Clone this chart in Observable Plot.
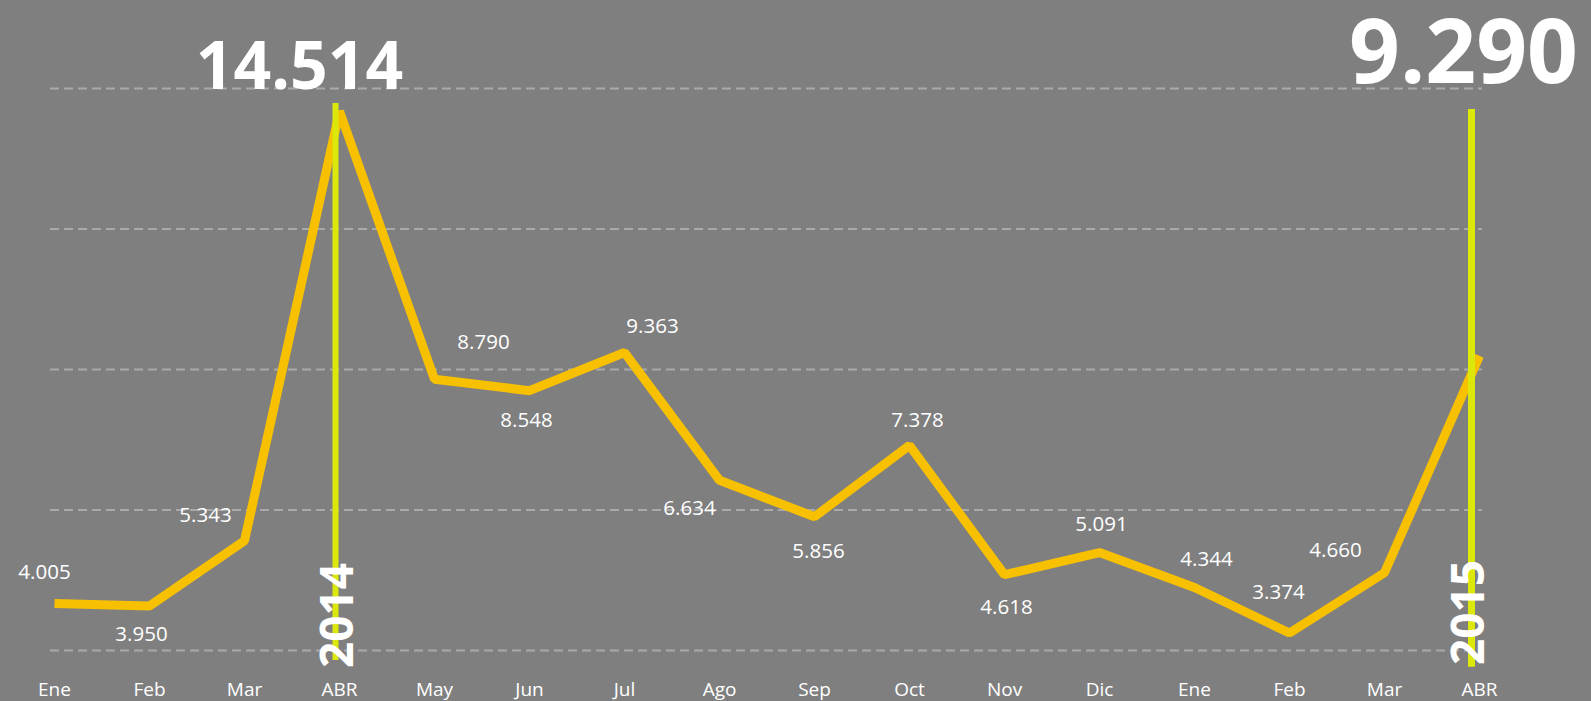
<!DOCTYPE html>
<html>
<head>
<meta charset="utf-8">
<script src="https://cdn.jsdelivr.net/npm/d3@7"></script>
<script src="https://cdn.jsdelivr.net/npm/@observablehq/plot@0.6"></script>
<style>
  html, body { margin: 0; padding: 0; background: #7f7f7f; overflow: hidden; }
  #chart svg { display: block; }
</style>
</head>
<body>
<div id="chart"></div>
<script>
// ---- data ----
const months = ["Ene","Feb","Mar","ABR","May","Jun","Jul","Ago","Sep","Oct","Nov","Dic","Ene","Feb","Mar","ABR"];
const values = [4005,3950,5343,14514,8790,8548,9363,6634,5856,7378,4618,5091,4344,3374,4660,9290];
const yearLabels = ["2014","2015"];
const yearIndex = [3, 15];
const gridTicks = [3000,6000,9000,12000,15000];

// ---- layout config (label nudges in px, relative to each point) ----
const labelOffsets = [
  [-10,-31],[-8,28],[-39,-25],null,[49,-37],[-3,30],[28,-26],[-30,28],
  [4,35],[8,-25],[2,33],[2,-28],[12,-28],[-11,-41],[-49,-22],null
];

const fmt = d3.formatLocale({decimal: ",", thousands: ".", grouping: [3]}).format(",d");
const data = values.map((v, i) => ({i, v, m: months[i]}));

const lineColor = "#f7c000";
const markerColor = "#dce70a";

const labelMarks = data
  .filter((d, i) => labelOffsets[i])
  .map(d => Plot.text([d], {
    x: "i", y: "v", text: d => fmt(d.v),
    dx: labelOffsets[d.i][0], dy: labelOffsets[d.i][1],
    fill: "white", fontSize: 20.5, lineAnchor: "middle", textAnchor: "middle"
  }));

const chart = Plot.plot({
  width: 1591,
  height: 701,
  marginLeft: 50,
  marginRight: 109,
  marginTop: 88,
  marginBottom: 51,
  style: {background: "#7f7f7f", color: "white", fontFamily: "'Open Sans', sans-serif"},
  x: {type: "point", domain: d3.range(months.length), padding: 0, axis: null},
  y: {domain: [3000, 15000], axis: null},
  marks: [
    Plot.ruleY(gridTicks, {stroke: "#a9a9a9", strokeWidth: 2, strokeDasharray: "9,5"}),
    Plot.line(data, {x: "i", y: "v", stroke: lineColor, strokeWidth: 9, strokeLinecap: "butt", strokeLinejoin: "miter"}),
    Plot.ruleX([data[yearIndex[0]]], {x: "i", y1: 2786, y2: 14680, dx: -4, stroke: markerColor, strokeWidth: 6}),
    Plot.ruleX([data[yearIndex[1]]], {x: "i", y1: 2640, y2: 14550, dx: -8, stroke: markerColor, strokeWidth: 7}),
    Plot.axisX({
      tickSize: 0, tickPadding: 31.5, fontSize: 19, fill: "white",
      tickFormat: i => months[i], label: null
    }),
    ...labelMarks,
    // big highlighted values
    Plot.text([data[yearIndex[0]]], {
      x: "i", text: d => fmt(d.v), frameAnchor: "top", lineAnchor: "bottom",
      dx: -40, fill: "white", fontSize: 66, fontWeight: 700
    }),
    Plot.text([data[yearIndex[1]]], {
      x: "i", text: d => fmt(d.v), frameAnchor: "top", lineAnchor: "bottom",
      dx: -16, dy: -6, fill: "white", fontSize: 89, fontWeight: 700
    }),
    // year labels
    Plot.text([data[yearIndex[0]]], {
      x: "i", text: () => yearLabels[0], frameAnchor: "bottom", rotate: -90,
      dx: -1, dy: -35, fill: "white", fontSize: 46, fontWeight: 700,
      textAnchor: "middle", lineAnchor: "middle"
    }),
    Plot.text([data[yearIndex[1]]], {
      x: "i", text: () => yearLabels[1], frameAnchor: "bottom", rotate: -90,
      dx: -10, dy: -38, fill: "white", fontSize: 46, fontWeight: 700,
      textAnchor: "middle", lineAnchor: "middle"
    })
  ]
});
document.getElementById("chart").append(chart);
</script>
</body>
</html>
